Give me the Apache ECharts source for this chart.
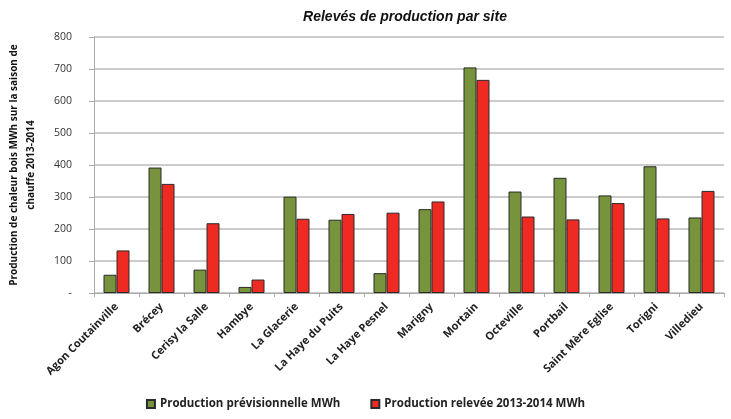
<!DOCTYPE html>
<html><head><meta charset="utf-8">
<script src="https://cdn.jsdelivr.net/npm/echarts@6/dist/echarts.min.js"></script>
<style>html,body{margin:0;padding:0;background:#fff}#c{width:731px;height:419px}</style>
</head><body><div id="c"></div>
<script>
const categories = ["Agon Coutainville","Brécey","Cerisy la Salle","Hambye","La Glacerie","La Haye du Puits","La Haye Pesnel","Marigny","Mortain","Octeville","Portbail","Saint Mère Eglise","Torigni","Villedieu"];
const previsionnelle = [57,392,73,19,301,229,62,262,705,317,360,305,396,236];
const relevee = [133,341,218,42,232,247,251,286,666,239,230,281,233,319];
const seriesNames = ["Production prévisionnelle MWh","Production relevée 2013-2014 MWh"];
const title = "Relevés de production par site";
const yName = "Production de chaleur bois MWh sur la saison de\nchauffe 2013-2014";

const chart = echarts.init(document.getElementById('c'));
const lblFont = {fontFamily:'Open Sans, Liberation Sans, sans-serif', fontWeight:'bold', fontSize:11, color:'#222'};
chart.setOption({
  animation:false,
  title:{text:title,left:400,top:5,textAlign:'center',textStyle:{fontFamily:'Liberation Sans, Arial, sans-serif',fontStyle:'italic',fontWeight:'bold',fontSize:14,color:'#111'}},
  grid:{left:94,right:7,top:37,bottom:126,containLabel:false,outerBoundsMode:'none'},
  legend:{bottom:4,left:'center',itemWidth:8,itemHeight:8,itemGap:30,icon:'rect',
    textStyle:{fontFamily:'Open Sans, sans-serif',fontSize:11.5,color:'#222',fontWeight:'bold'}},
  xAxis:{type:'category',data:categories,
    axisLine:{lineStyle:{color:'#aaa',width:1}},
    axisTick:{show:true,alignWithLabel:false,lineStyle:{color:'#aaa'},length:4},
    axisLabel:Object.assign({rotate:45,interval:0,margin:12},lblFont)},
  yAxis:{type:'value',min:0,max:800,interval:100,name:yName,nameLocation:'middle',nameGap:54,nameRotate:90,
    nameTextStyle:{fontFamily:'Open Sans, sans-serif',fontWeight:'bold',fontSize:10,color:'#111',lineHeight:17,align:'center'},
    axisLine:{show:true,lineStyle:{color:'#aaa'}},
    axisTick:{show:true,length:5,lineStyle:{color:'#aaa'}},
    splitLine:{lineStyle:{color:'#bbb',width:1.5}},
    axisLabel:Object.assign({formatter:v=>v===0?'-':String(v),margin:22},lblFont,{fontWeight:'normal',fontSize:10.5,color:'#333'})},
  series:[
    {name:seriesNames[0],type:'bar',data:previsionnelle,barWidth:13,barGap:'0%',
      itemStyle:{color:'#77933C',borderColor:'#2a2a2a',borderWidth:1}},
    {name:seriesNames[1],type:'bar',data:relevee,barWidth:13,barGap:'0%',
      itemStyle:{color:'#EE2A22',borderColor:'#2a2a2a',borderWidth:1}}
  ]
});
</script></body></html>
